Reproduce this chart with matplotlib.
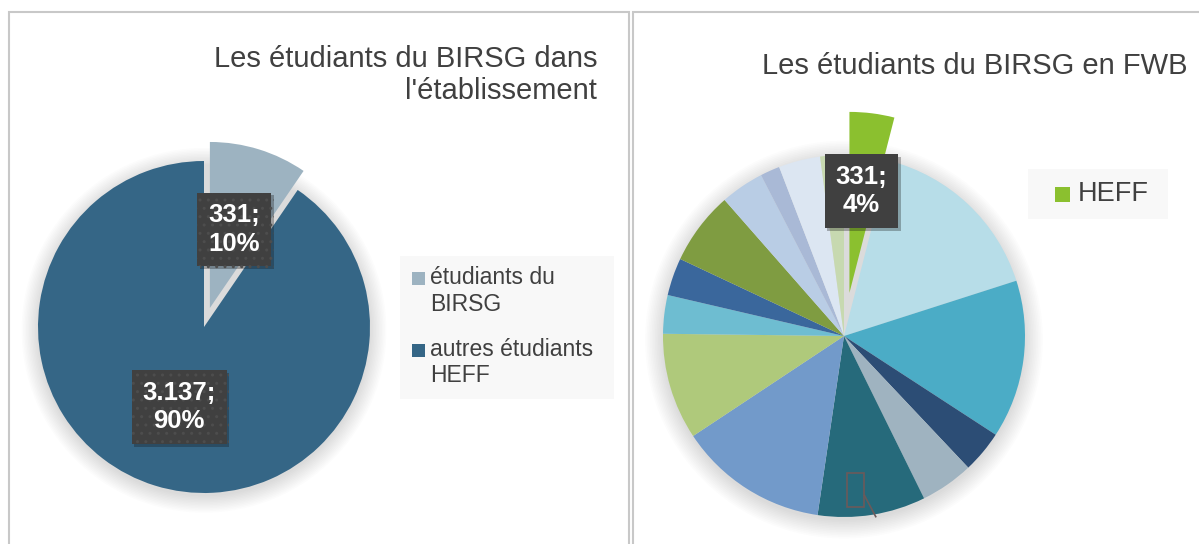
import numpy as np
import matplotlib.pyplot as plt
from matplotlib.patches import Rectangle, Circle
from matplotlib import patheffects as pe

plt.rcParams['font.family'] = ['Liberation Sans', 'DejaVu Sans']

W, H = 1199, 544

# left chart: students of the BIRSG in the school
left_title = "Les étudiants du BIRSG dans\nl'établissement"
left_labels = ["étudiants du\nBIRSG", "autres étudiants\nHEFF"]
left_values = [331, 3137]
left_colors = ['#9db3c1', '#356686']

# right chart: students of the BIRSG in FWB (only HEFF named in legend)
right_title = "Les étudiants du BIRSG en FWB"
right_legend = "HEFF"
right_values = [331, 1331, 1170, 313, 393, 798, 1106, 788, 285, 278, 542, 322, 145, 308, 175]
right_colors = ['#8bc02f', '#b7dde8', '#4bacc6', '#2c4d75', '#9fb3c0', '#266a7b',
                '#729aca', '#afc97b', '#6ebdd1', '#3a679c', '#7f9c41', '#b9cde5',
                '#a9b9d6', '#dce6f2', '#c7d9b0']

text_col = '#404040'
LIM = 1.4


def fmt(v, total):
    return f"{v:,}".replace(',', '.') + ";\n" + f"{round(100 * v / total)}%"


def pie_axes(fig, cx, cy, r):
    half = r * LIM
    ax = fig.add_axes([(cx - half) / W, (H - cy - half) / H, 2 * half / W, 2 * half / H])
    return ax


def finish(ax):
    ax.set_xlim(-LIM, LIM)
    ax.set_ylim(-LIM, LIM)
    ax.set_aspect('auto')
    ax.axis('off')


def shadow(ax):
    for i in range(12):
        ax.add_patch(Circle((0.0, -0.02), 1.0 + 0.009 * i, color='k', alpha=0.011,
                            lw=0, zorder=0))


def data_label(ax, x, y, txt, dotted, size):
    kw = dict(boxstyle='square,pad=0.42', fc='#404040', lw=0)
    if dotted:
        kw.update(ec='#4d4d4d', hatch='..')
    else:
        kw.update(ec='#404040')
    t = ax.text(x, y, txt, ha='center', va='center', color='white', fontsize=size,
                fontweight='bold', linespacing=1.22, bbox=kw, zorder=5)
    t.get_bbox_patch().set_path_effects([pe.SimplePatchShadow(offset=(2, -2), alpha=0.3),
                                         pe.Normal()])
    return t


fig = plt.figure(figsize=(W / 100, H / 100), dpi=100)

# panel borders
for x0, x1 in [(9, 629), (633, 1210)]:
    fig.add_artist(Rectangle((x0 / W, -0.02), (x1 - x0) / W, (H - 11.5) / H + 0.02,
                             transform=fig.transFigure, fill=False, ec='#c8c8c8', lw=1.5))

# ---- left pie
ax1 = pie_axes(fig, 204, 327, 166)
shadow(ax1)
wl, _ = ax1.pie(left_values, colors=left_colors, startangle=90, counterclock=False,
                explode=[0.12, 0], radius=1, wedgeprops=dict(lw=0))
finish(ax1)
tot_l = sum(left_values)
for w, v, d in zip(wl, left_values, [0.615, 0.506]):
    ang = np.deg2rad((w.theta1 + w.theta2) / 2)
    data_label(ax1, d * np.cos(ang), d * np.sin(ang), fmt(v, tot_l), True, 18.5)

fig.text(597 / W, 1 - 45 / H, left_title, ha='right', va='top', fontsize=21,
         color=text_col, linespacing=1.17)

# left legend
fig.add_artist(Rectangle((400 / W, 1 - 399 / H), 214 / W, 143 / H,
                         transform=fig.transFigure, fc='#f8f8f8', ec='none'))
for i, (lab, c) in enumerate(zip(left_labels, left_colors)):
    ytop = 272 + i * 71.5
    fig.add_artist(Rectangle((412 / W, 1 - (ytop + 13) / H), 13 / W, 13 / H,
                             transform=fig.transFigure, fc=c, ec='none'))
    fig.text(430 / W, 1 - (ytop - 6) / H, lab, ha='left', va='top', fontsize=16.5,
             color=text_col, linespacing=1.2)

# ---- right pie
ax2 = pie_axes(fig, 844, 336, 181)
shadow(ax2)
explode = [0.24] + [0] * (len(right_values) - 1)
wr, _ = ax2.pie(right_values, colors=right_colors, startangle=90, counterclock=False,
                explode=explode, radius=1, wedgeprops=dict(lw=0))
finish(ax2)
tot_r = sum(right_values)
w0 = wr[0]
ang = np.deg2rad((w0.theta1 + w0.theta2) / 2)
data_label(ax2, 0.807 * np.cos(ang) - 0.005, 0.807 * np.sin(ang), fmt(right_values[0], tot_r),
           False, 18.5)

# empty label box left in the dark teal slice
wt = wr[5]
a = np.deg2rad(wt.theta1 + 0.37 * (wt.theta2 - wt.theta1))
bx, by = 0.853 * np.cos(a), 0.853 * np.sin(a)
ax2.add_patch(Rectangle((bx - 0.047, by - 0.097), 0.094, 0.193, fill=False,
                        ec='#6b5a5a', lw=1.2, zorder=4))
ea = np.deg2rad(wt.theta1 + 0.5 * (wt.theta2 - wt.theta1))
ax2.plot([bx + 0.047, 1.0 * np.cos(ea) + 0.02], [by - 0.03, np.sin(ea) - 0.01],
         color='#6b5a5a', lw=1.2, zorder=4)

fig.text(1187 / W, 1 - 52 / H, right_title, ha='right', va='top', fontsize=21,
         color=text_col)

# right legend
fig.add_artist(Rectangle((1028 / W, 1 - 219 / H), 140 / W, 50 / H,
                         transform=fig.transFigure, fc='#f8f8f8', ec='none'))
fig.add_artist(Rectangle((1055 / W, 1 - 202 / H), 15 / W, 15 / H,
                         transform=fig.transFigure, fc=right_colors[0], ec='none'))
fig.text(1078 / W, 1 - 194 / H, right_legend, ha='left', va='center', fontsize=19.5,
         color=text_col)

fig.savefig('out.png', dpi=100)
